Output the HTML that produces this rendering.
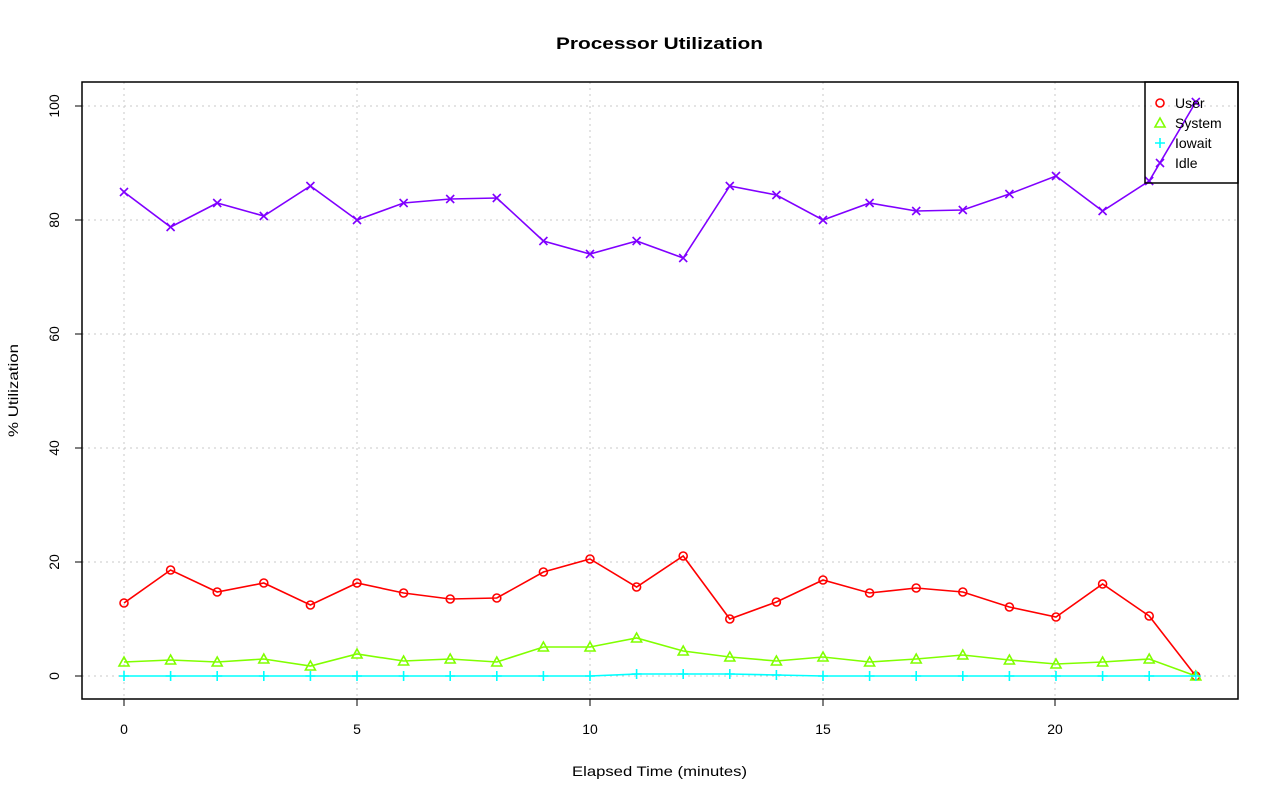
<!DOCTYPE html>
<html><head><meta charset="utf-8"><style>body{margin:0;background:#fff}svg{display:block}text{font-family:"Liberation Sans",sans-serif}</style></head><body>
<svg width="1280" height="801" xmlns="http://www.w3.org/2000/svg">
<defs>
<marker id="mo" markerUnits="userSpaceOnUse" markerWidth="12" markerHeight="12" refX="6" refY="6" overflow="visible"><circle cx="6" cy="6" r="4" fill="none" stroke="#ff0000" stroke-width="1.6"/></marker>
<marker id="mt" markerUnits="userSpaceOnUse" markerWidth="12" markerHeight="12" refX="6" refY="6" overflow="visible"><polygon points="6,1 11,10 1,10" fill="none" stroke="#80ff00" stroke-width="1.6"/></marker>
<marker id="mp" markerUnits="userSpaceOnUse" markerWidth="12" markerHeight="12" refX="6" refY="6" overflow="visible"><path d="M1 6h10M6 1v10" stroke="#00ffff" stroke-width="1.6"/></marker>
<marker id="mx" markerUnits="userSpaceOnUse" markerWidth="12" markerHeight="12" refX="6" refY="6" overflow="visible"><path d="M2 2l8 8M10 2l-8 8" stroke="#8000ff" stroke-width="1.6"/></marker>
</defs>
<rect width="1280" height="801" fill="#fff"/>
<text x="556" y="49" font-size="17" font-weight="bold" textLength="207" lengthAdjust="spacingAndGlyphs">Processor Utilization</text>
<text x="572" y="776" font-size="14" textLength="175" lengthAdjust="spacingAndGlyphs">Elapsed Time (minutes)</text>
<text transform="translate(18,437) rotate(-90)" font-size="14" textLength="93" lengthAdjust="spacingAndGlyphs">% Utilization</text>
<g stroke="#c8c8c8" stroke-dasharray="2,4" stroke-width="1">
<line x1="124" y1="82" x2="124" y2="699"/><line x1="357" y1="82" x2="357" y2="699"/><line x1="590" y1="82" x2="590" y2="699"/><line x1="823" y1="82" x2="823" y2="699"/><line x1="1055" y1="82" x2="1055" y2="699"/>
<line x1="82" y1="676" x2="1238" y2="676"/><line x1="82" y1="562" x2="1238" y2="562"/><line x1="82" y1="448" x2="1238" y2="448"/><line x1="82" y1="334" x2="1238" y2="334"/><line x1="82" y1="220" x2="1238" y2="220"/><line x1="82" y1="106" x2="1238" y2="106"/>
</g>
<rect x="82" y="82" width="1156" height="617" fill="none" stroke="#000" stroke-width="1.5"/>
<g stroke="#000"><line x1="124" y1="699" x2="1055" y2="699"/>
<line x1="124" y1="699" x2="124" y2="706"/><line x1="357" y1="699" x2="357" y2="706"/><line x1="590" y1="699" x2="590" y2="706"/><line x1="823" y1="699" x2="823" y2="706"/><line x1="1055" y1="699" x2="1055" y2="706"/>
<line x1="75" y1="676" x2="82" y2="676"/><line x1="75" y1="562" x2="82" y2="562"/><line x1="75" y1="448" x2="82" y2="448"/><line x1="75" y1="334" x2="82" y2="334"/><line x1="75" y1="220" x2="82" y2="220"/><line x1="75" y1="106" x2="82" y2="106"/></g>
<g font-size="14" text-anchor="middle"><text x="124" y="734">0</text><text x="357" y="734">5</text><text x="590" y="734">10</text><text x="823" y="734">15</text><text x="1055" y="734">20</text>
<text transform="translate(59,676) rotate(-90)">0</text><text transform="translate(59,562) rotate(-90)">20</text><text transform="translate(59,448) rotate(-90)">40</text><text transform="translate(59,334) rotate(-90)">60</text><text transform="translate(59,220) rotate(-90)">80</text><text transform="translate(59,106) rotate(-90)">100</text></g>
<g fill="none" stroke-width="1.6">
<polyline stroke="#ff0000" marker-start="url(#mo)" marker-mid="url(#mo)" marker-end="url(#mo)" points="124,603 170.6,570 217.2,592 263.8,583 310.4,605 357,583 403.6,593 450.2,599 496.8,598 543.4,572 590,559 636.6,587 683.2,556 729.8,619 776.4,602 823,580 869.6,593 916.2,588 962.8,592 1009.4,607 1056,617 1102.6,584 1149.2,616 1195.8,676"/>
<polyline stroke="#80ff00" marker-start="url(#mt)" marker-mid="url(#mt)" marker-end="url(#mt)" points="124,662 170.6,660 217.2,662 263.8,659 310.4,666 357,654 403.6,661 450.2,659 496.8,662 543.4,647 590,647 636.6,638 683.2,651 729.8,657 776.4,661 823,657 869.6,662 916.2,659 962.8,655 1009.4,660 1056,664 1102.6,662 1149.2,659 1195.8,676"/>
<polyline stroke="#00ffff" marker-start="url(#mp)" marker-mid="url(#mp)" marker-end="url(#mp)" points="124,676 170.6,676 217.2,676 263.8,676 310.4,676 357,676 403.6,676 450.2,676 496.8,676 543.4,676 590,676 636.6,674 683.2,674 729.8,674 776.4,675 823,676 869.6,676 916.2,676 962.8,676 1009.4,676 1056,676 1102.6,676 1149.2,676 1195.8,676"/>
<polyline stroke="#8000ff" marker-start="url(#mx)" marker-mid="url(#mx)" marker-end="url(#mx)" points="124,192 170.6,227 217.2,203 263.8,216 310.4,186 357,220 403.6,203 450.2,199 496.8,198 543.4,241 590,254 636.6,241 683.2,258 729.8,186 776.4,195 823,220 869.6,203 916.2,211 962.8,210 1009.4,194 1056,176 1102.6,211 1149.2,181 1195.8,102"/>
</g>
<rect x="1145" y="82" width="93" height="101" fill="none" stroke="#000" stroke-width="1.5"/>
<g font-size="14"><text x="1175" y="108">User</text><text x="1175" y="128">System</text><text x="1175" y="148">Iowait</text><text x="1175" y="168">Idle</text></g>
<circle cx="1160" cy="103" r="4" fill="none" stroke="#ff0000" stroke-width="1.6"/>
<polygon points="1160,118 1165,127 1155,127" fill="none" stroke="#80ff00" stroke-width="1.6"/>
<path d="M1155 143h10M1160 138v10" stroke="#00ffff" stroke-width="1.6"/>
<path d="M1156 159l8 8M1164 159l-8 8" stroke="#8000ff" stroke-width="1.6"/>
</svg></body></html>
